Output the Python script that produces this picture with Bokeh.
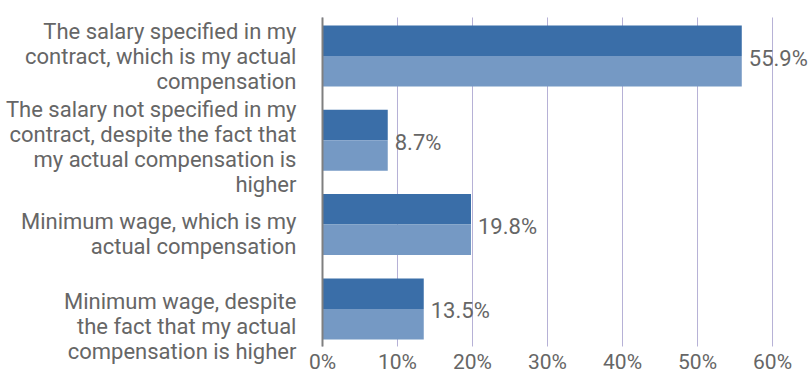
from bokeh.plotting import figure
from bokeh.models import Range1d, ColumnDataSource
from bokeh.core.properties import value
from bokeh.embed import file_html
from bokeh.resources import INLINE

categories = [
    "The salary specified in my\ncontract, which is my actual\ncompensation",
    "The salary not specified in my\ncontract, despite the fact that\nmy actual compensation is\nhigher",
    "Minimum wage, which is my\nactual compensation",
    "Minimum wage, despite\nthe fact that my actual\ncompensation is higher",
]
shares = [0.559, 0.087, 0.198, 0.135]
share_labels = ["55.9%", "8.7%", "19.8%", "13.5%"]
tick_values = [0, 0.1, 0.2, 0.3, 0.4, 0.5, 0.6]
tick_labels = ["0%", "10%", "20%", "30%", "40%", "50%", "60%"]

FONT = "Roboto"
TEXT = "#666666"
DARK = "#3A6EA8"
LIGHT = "#7599C4"
GRID = "#B6B1D6"

n = len(categories)
idx = list(range(n))
bar_h = 0.724
pad_top, pad_bot = 0.457, 0.446
grid_top, grid_bot = -pad_top, (n - 1) + pad_bot

src = ColumnDataSource(dict(
    y=idx,
    y_top=[i - bar_h / 4 for i in idx],
    y_bot=[i + bar_h / 4 for i in idx],
    v=shares,
    lab=share_labels,
    cat=categories,
    cat_off=[0, 7, 9, 18],
))
tsrc = ColumnDataSource(dict(
    x=tick_values,
    lab=tick_labels,
    y0=[grid_top] * len(tick_values),
    y1=[grid_bot] * len(tick_values),
))

p = figure(width=812, height=376, output_backend="svg", toolbar_location=None,
           x_range=Range1d(-0.4293, 0.6533), y_range=Range1d(3.802, -0.6584),
           min_border=0)
p.outline_line_color = None
p.background_fill_color = "white"
p.border_fill_color = "white"
p.axis.visible = False
p.grid.visible = False

# gridlines
p.segment(x0="x", x1="x", y0="y0", y1="y1", source=tsrc,
          line_color=GRID, line_width=1)

p.hbar(y="y_top", left=0, right="v", height=bar_h / 2, source=src,
       fill_color=DARK, line_color=None)
p.hbar(y="y_bot", left=0, right="v", height=bar_h / 2, source=src,
       fill_color=LIGHT, line_color=None)

# vertical axis line
p.segment(x0=[0], x1=[0], y0=[grid_top], y1=[grid_bot],
          line_color="#7F7F7F", line_width=2)

# value labels
p.text(x="v", y="y", text="lab", source=src, x_offset=7, y_offset=2,
       text_font=value(FONT), text_font_size="22px", text_color=TEXT,
       text_align="left", text_baseline="middle")

# category labels
p.text(x=-0.0347, y="y", text="cat", source=src, y_offset="cat_off",
       text_font=value(FONT), text_font_size="22px", text_color=TEXT,
       text_align="right", text_baseline="middle", text_line_height=1.0)

# tick labels
p.text(x="x", y="y1", text="lab", source=tsrc, y_offset=4,
       text_font=value(FONT), text_font_size="21px", text_color=TEXT,
       text_align="center", text_baseline="top")

open("out.html", "w").write(file_html(p, INLINE))
